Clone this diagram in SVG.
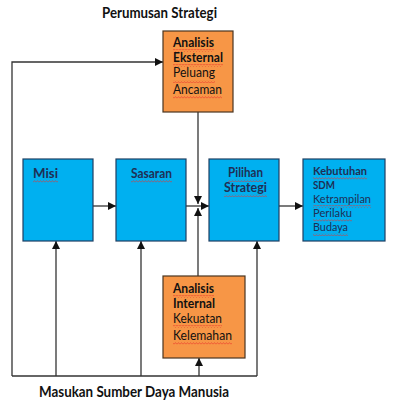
<svg xmlns="http://www.w3.org/2000/svg" width="400" height="411" viewBox="0 0 400 411">
<style>
.bg{fill:#ffffff}
.blue{fill:#00B0F0;stroke:#1F3F63;stroke-width:1.2}
.org{fill:#F79646;stroke:#4A3520;stroke-width:1.2}
.t{font-family:Lato,"Liberation Sans",sans-serif;font-size:13px;fill:#111}
.ts{font-size:12px}
.tb{font-weight:bold}
.tn{fill:#1F2F55}
.h{font-family:Lato,"Liberation Sans",sans-serif;font-size:15px;font-weight:bold;fill:#111}
.ln{fill:none;stroke:#333;stroke-width:1.3}
.sq{fill:url(#wave)}
</style>
<defs>
<marker id="ah" markerUnits="userSpaceOnUse" markerWidth="9" markerHeight="8" refX="8" refY="4" orient="auto">
<path d="M0,0 L8,4 L0,8 Z" fill="#111"/>
</marker>
<pattern id="wave" patternUnits="userSpaceOnUse" width="3" height="3">
<path d="M0,2.4 L1.5,0.6 L3,2.4" fill="none" stroke="#E8302A" stroke-width="0.6"/>
</pattern>
</defs>
<rect class="bg" width="400" height="411"/>

<text class="h" x="102" y="18" textLength="115" lengthAdjust="spacingAndGlyphs">Perumusan Strategi</text>

<g id="connectors">
<path class="ln" d="M12,376 V62 H163" marker-end="url(#ah)"/>
<path class="ln" d="M12,376 H257"/>
<path class="ln" d="M56,376 V241" marker-end="url(#ah)"/>
<path class="ln" d="M141,376 V241" marker-end="url(#ah)"/>
<path class="ln" d="M257,376 V241" marker-end="url(#ah)"/>
<path class="ln" d="M199,376 V358" marker-end="url(#ah)"/>
<path class="ln" d="M198,112 V204" marker-end="url(#ah)"/>
<path class="ln" d="M198,276 V208" marker-end="url(#ah)"/>
<path class="ln" d="M93,206 H116" marker-end="url(#ah)"/>
<path class="ln" d="M186,206 H209" marker-end="url(#ah)"/>
<path class="ln" d="M279,206 H303" marker-end="url(#ah)"/>
</g>

<g id="analisis-eksternal">
<rect class="org" x="163" y="31" width="70" height="81"/>
<text class="t tb" x="173" y="47" textLength="41" lengthAdjust="spacingAndGlyphs">Analisis</text>
<text class="t tb" x="173" y="62" textLength="50" lengthAdjust="spacingAndGlyphs">Eksternal</text>
<text class="t" x="173" y="77" textLength="42" lengthAdjust="spacingAndGlyphs">Peluang</text>
<text class="t" x="173" y="94" textLength="49" lengthAdjust="spacingAndGlyphs">Ancaman</text>
<rect class="sq" x="173" y="49" width="41" height="3"/>
<rect class="sq" x="173" y="64" width="50" height="3"/>
<rect class="sq" x="173" y="80" width="42" height="3"/>
<rect class="sq" x="173" y="96" width="49" height="3"/>
</g>

<g id="misi">
<rect class="blue" x="23" y="159" width="70" height="82"/>
<text class="t tb tn" x="33" y="178" textLength="25" lengthAdjust="spacingAndGlyphs">Misi</text>
<rect class="sq" x="33" y="180" width="25" height="3"/>
</g>

<g id="sasaran">
<rect class="blue" x="116" y="159" width="70" height="82"/>
<text class="t tb tn" x="131" y="178" textLength="41" lengthAdjust="spacingAndGlyphs">Sasaran</text>
<rect class="sq" x="131" y="180" width="41" height="3"/>
</g>

<g id="pilihan-strategi">
<rect class="blue" x="209" y="159" width="70" height="82"/>
<text class="t tb tn" x="228" y="177" textLength="35" lengthAdjust="spacingAndGlyphs">Pilihan</text>
<text class="t tb tn" x="224" y="192" textLength="43" lengthAdjust="spacingAndGlyphs">Strategi</text>
<rect class="sq" x="228" y="179" width="35" height="3"/>
<rect class="sq" x="224" y="194" width="43" height="3"/>
</g>

<g id="kebutuhan-sdm">
<rect class="blue" x="303" y="159" width="82" height="82"/>
<text class="t ts tb tn" x="313" y="175" textLength="54" lengthAdjust="spacingAndGlyphs">Kebutuhan</text>
<text class="t ts tb tn" x="313" y="189" textLength="22" lengthAdjust="spacingAndGlyphs">SDM</text>
<text class="t ts tn" x="313" y="203" textLength="58" lengthAdjust="spacingAndGlyphs">Ketrampilan</text>
<text class="t ts tn" x="313" y="217" textLength="39" lengthAdjust="spacingAndGlyphs">Perilaku</text>
<text class="t ts tn" x="313" y="231" textLength="35" lengthAdjust="spacingAndGlyphs">Budaya</text>
<rect class="sq" x="313" y="177" width="54" height="3"/>
<rect class="sq" x="313" y="205" width="58" height="3"/>
<rect class="sq" x="313" y="219" width="39" height="3"/>
<rect class="sq" x="313" y="233" width="35" height="3"/>
</g>

<g id="analisis-internal">
<rect class="org" x="163" y="276" width="82" height="82"/>
<text class="t tb" x="173" y="293" textLength="41" lengthAdjust="spacingAndGlyphs">Analisis</text>
<text class="t tb" x="173" y="308" textLength="42" lengthAdjust="spacingAndGlyphs">Internal</text>
<text class="t" x="173" y="323" textLength="49" lengthAdjust="spacingAndGlyphs">Kekuatan</text>
<text class="t" x="173" y="340" textLength="59" lengthAdjust="spacingAndGlyphs">Kelemahan</text>
<rect class="sq" x="173" y="295" width="41" height="3"/>
<rect class="sq" x="173" y="325" width="49" height="3"/>
<rect class="sq" x="173" y="342" width="59" height="3"/>
</g>

<text class="h" x="39" y="397" textLength="190" lengthAdjust="spacingAndGlyphs">Masukan Sumber Daya Manusia</text>
</svg>
